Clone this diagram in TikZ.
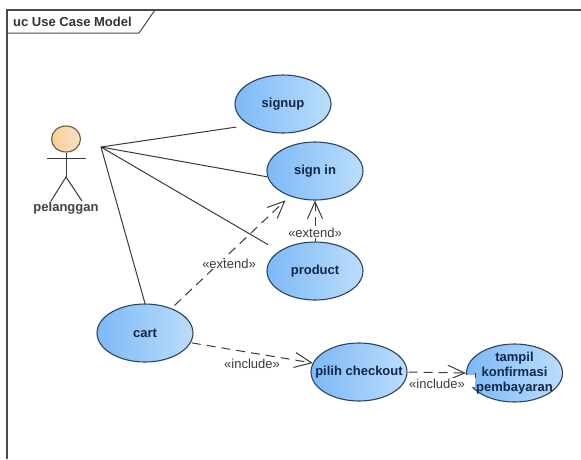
\documentclass[tikz,border=0pt]{standalone}
\usepackage{fontspec}
\setmainfont{Liberation Sans}
\usetikzlibrary{shapes.geometric}
\usetikzlibrary{arrows.meta}
\definecolor{linegray}{HTML}{3A3A3A}
\definecolor{framegray}{HTML}{4A4A4A}
\definecolor{usecaseline}{HTML}{2B4462}
\definecolor{usecasetext}{HTML}{14264A}
\definecolor{usecaseleft}{HTML}{7DB9F6}
\definecolor{usecaseright}{HTML}{BBDDFB}
\definecolor{headleft}{HTML}{F6CF9A}
\definecolor{headright}{HTML}{F9E2C4}
\definecolor{headline}{HTML}{6E5A34}
\tikzset{
    usecasefont/.style={text=usecasetext, align=center, font=\bfseries\fontsize{13}{15}\selectfont},
    usecase/.style={ellipse, draw=usecaseline, line width=1.1pt, left color=usecaseleft, right color=usecaseright,
        minimum width=96pt, minimum height=58pt, inner sep=0pt, usecasefont},
    assoc/.style={draw=linegray, line width=1pt},
    dep/.style={draw=linegray, line width=1pt, dash pattern=on 9pt off 6pt, -{Straight Barb[length=17pt,width=15pt,line width=1pt]}},
    deplabel/.style={fill=white, inner sep=0.5pt, text=linegray, font=\fontsize{13}{14}\selectfont},
    actorline/.style={draw=linegray, line width=1pt},
}

\begin{document}
\begin{tikzpicture}[x=1pt,y=-1pt]
    \useasboundingbox (0,0) rectangle (581,459);

    % frame
    \draw[framegray, line width=1.2pt] (581,10) -- (7,10) -- (7,459);
    \draw[framegray, line width=1pt] (7,33) -- (139,33) -- (155,10);
    \node[anchor=west, inner sep=0pt, text=black!80, font=\bfseries\fontsize{13}{14}\selectfont] (title) at (13,21.5) {uc Use Case Model};

    % actor
    \node[ellipse, draw=headline, line width=1.1pt, left color=headleft, right color=headright, minimum width=29pt, minimum height=26pt, inner sep=0pt] (head) at (66,139) {};
    \coordinate (neck) at (66,177);
    \coordinate (armL) at (47,158);
    \coordinate (armR) at (86,158);
    \coordinate (legL) at (51,201);
    \coordinate (legR) at (82,201);
    \draw[actorline] (head) -- (neck);
    \draw[actorline] (armL) -- (armR);
    \draw[actorline] (legL) -- (neck) -- (legR);
    \node[inner sep=0pt, text=black!75, font=\bfseries\fontsize{13}{14}\selectfont] (pelanggan) at (66,208.5) {pelanggan};
    \coordinate (actor) at (101,147);

    % use cases
    \node[usecase](signup) at (283,104){signup};
    \node[usecase](signin) at (315,171){sign in};
    \node[usecase](product) at (315,271){product};
    \node[usecase](cart) at (145,333){cart};
    \node[usecase](checkout) at (359,372){\makebox[0pt]{pilih checkout}};
    \node[usecase](konfirmasi) at (514.5,373){};

    % associations
    \draw[assoc, shorten >=13pt] (actor) -- (signup.212);
    \draw[assoc] (actor) -- (signin.187);
    \draw[assoc, shorten >=13pt] (actor) -- (product.151);
    \draw[assoc] (actor) -- (cart.north);

    % dependencies
    \draw[dep, shorten <=4pt, shorten >=6pt] (cart.43) -- (signin.225);
    \draw[dep] (product.north) -- (signin.south);
    \draw[dep, shorten <=1pt] (cart.-12) -- (checkout.169);
    \draw[dep, shorten <=1pt] (checkout.east) -- (konfirmasi.west);
    \node[deplabel](extendA) at (229,264){«extend»};
    \node[deplabel](extendB) at (315,233){«extend»};
    \node[deplabel](includeA) at (252,364){«include»};
    \node[deplabel](includeB) at (437,383.5){«include»};

    % patch on the last use case, then its text
    \fill[white] (465,375) rectangle (475,387);
    \draw[linegray, line width=0.9pt] (475,373) -- (475,378);
    \node[usecasefont, inner sep=0pt](konfirmasitext) at (konfirmasi.center){tampil\\konfirmasi\\pembayaran};
\end{tikzpicture}
\end{document}
